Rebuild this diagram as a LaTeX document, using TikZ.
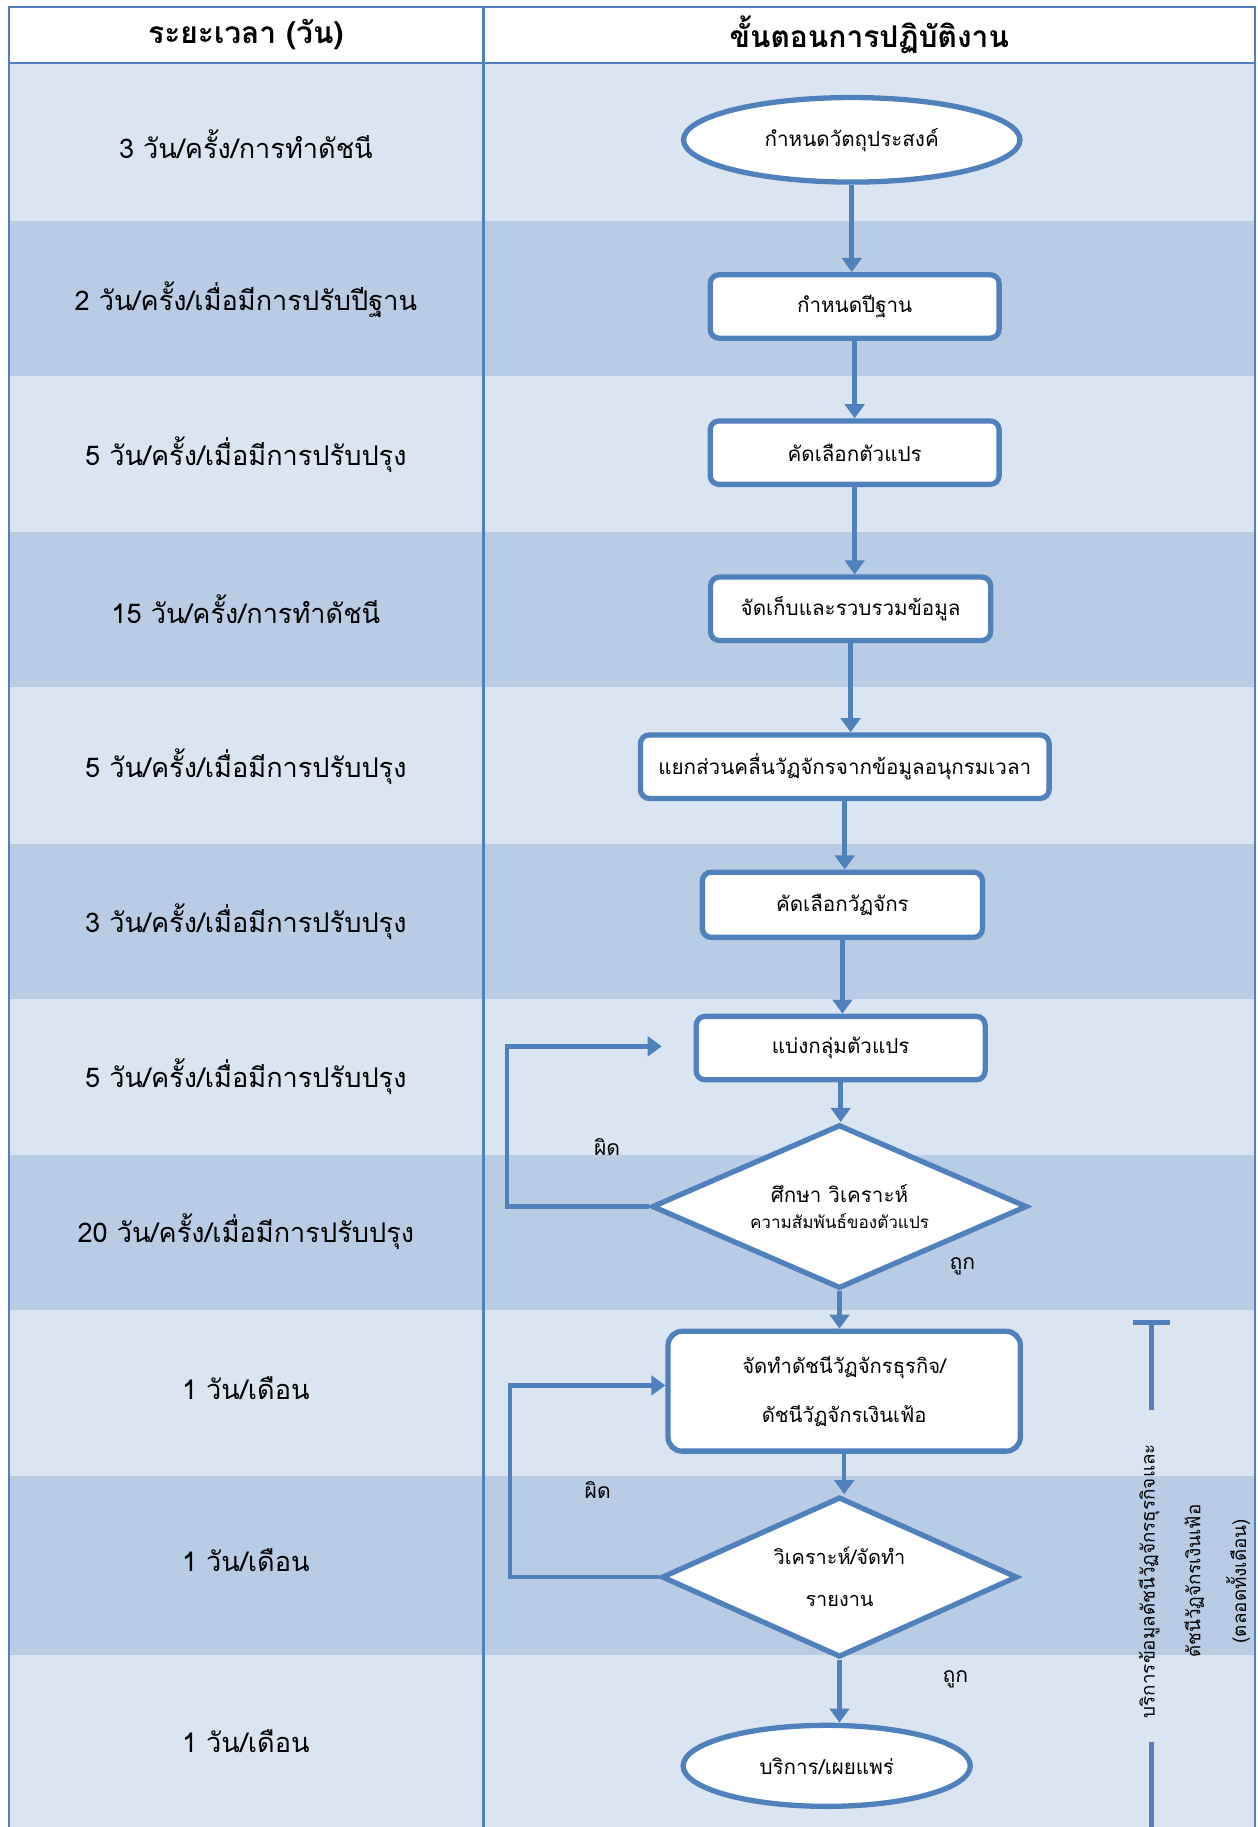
\documentclass[tikz,border=0pt]{standalone}
\usepackage{fontspec}
\newfontfamily\thaifont[Script=Thai]{Loma}
\usetikzlibrary{shapes.geometric,arrows.meta}
\definecolor{flowblue}{RGB}{79,129,189}
\definecolor{bandlight}{RGB}{219,229,241}
\definecolor{banddark}{RGB}{184,204,228}
\tikzset{
  every picture/.style={font=\thaifont, >={Triangle[width=11pt,length=8pt]}},
  gridline/.style={draw=flowblue, line width=1.3pt}}

\begin{document}
\begin{tikzpicture}[x=0.6614pt, y=-0.6614pt,
    headtext/.style={font=\thaifont\bfseries\fontsize{17}{20}\selectfont},
    timetext/.style={font=\thaifont\fontsize{15.4}{18}\selectfont},
    stepbox/.style={
      draw=flowblue,
      line width=3pt,
      fill=white,
      rounded corners=5pt,
      minimum width=164pt,
      minimum height=36pt,
      inner sep=2pt,
      align=center,
      font=\thaifont\fontsize{11.7}{14}\selectfont},
    terminal/.style={
      ellipse,
      draw=flowblue,
      line width=3pt,
      fill=white,
      inner sep=0pt,
      font=\thaifont\fontsize{11.7}{14}\selectfont},
    decision/.style={
      diamond,
      aspect=2.3,
      draw=flowblue,
      line width=3pt,
      fill=white,
      inner sep=0pt,
      align=center,
      font=\thaifont\fontsize{11.7}{14}\selectfont},
    flow/.style={->, draw=flowblue, line width=2.6pt},
    marktext/.style={font=\thaifont\fontsize{12}{14}\selectfont},
    bracket/.style={draw=flowblue, line width=2.6pt}]

    \useasboundingbox[fill=white] (0,0) rectangle (1079,1568);

    % row bands
    \foreach \top/\bot/\tone in {54/190/bandlight, 190/323/banddark,
        323/457/bandlight, 457/590/banddark, 590/724/bandlight,
        724/857/banddark, 857/991/bandlight, 991/1124/banddark,
        1124/1267/bandlight, 1267/1420/banddark, 1420/1568/bandlight}
      \fill[fill=\tone] (8,\top) rectangle (1077,\bot);

    \draw[gridline] (8,1568) -- (8,6) -- (1077,6) -- (1077,1568);
    \draw[gridline] (8,54) -- (1077,54);
    \draw[gridline] (415,6) -- (415,1568);

    \node[headtext] (headtime) at (211,30) {ระยะเวลา (วัน)};
    \node[headtext] (headstep) at (746,30) {ขั้นตอนการปฏิบัติงาน};

    % durations
    \node[timetext] (time1) at (211,124) {3 วัน/ครั้ง/การทำดัชนี};
    \node[timetext] (time2) at (211,257) {2 วัน/ครั้ง/เมื่อมีการปรับปีฐาน};
    \node[timetext] (time3) at (211,390) {5 วัน/ครั้ง/เมื่อมีการปรับปรุง};
    \node[timetext] (time4) at (211,523) {15 วัน/ครั้ง/การทำดัชนี};
    \node[timetext] (time5) at (211,658) {5 วัน/ครั้ง/เมื่อมีการปรับปรุง};
    \node[timetext] (time6) at (211,791) {3 วัน/ครั้ง/เมื่อมีการปรับปรุง};
    \node[timetext] (time7) at (211,924) {5 วัน/ครั้ง/เมื่อมีการปรับปรุง};
    \node[timetext] (time8) at (211,1057) {20 วัน/ครั้ง/เมื่อมีการปรับปรุง};
    \node[timetext] (time9) at (211,1191) {1 วัน/เดือน};
    \node[timetext] (time10) at (211,1339) {1 วัน/เดือน};
    \node[timetext] (time11) at (211,1494) {1 วัน/เดือน};

    % steps
    \node[terminal, minimum width=191pt, minimum height=48pt] (objective) at (731,120) {กำหนดวัตถุประสงค์};
    \node[stepbox] (baseyear) at (733.5,263) {กำหนดปีฐาน};
    \node[stepbox] (variables) at (733.5,388.5) {คัดเลือกตัวแปร};
    \node[stepbox, minimum width=159pt] (collect) at (730,522.5) {จัดเก็บและรวบรวมข้อมูล};
    \node[stepbox, minimum width=232pt] (decompose) at (725,658) {แยกส่วนคลื่นวัฏจักรจากข้อมูลอนุกรมเวลา};
    \node[stepbox, minimum width=159pt, minimum height=37pt] (cycles) at (723,776.5) {คัดเลือกวัฏจักร};
    \node[stepbox] (grouping) at (721.5,899.5) {แบ่งกลุ่มตัวแปร};
    \node[decision, minimum width=213pt, minimum height=93pt] (study) at (720.5,1035.5)
      {ศึกษา วิเคราะห์\\[1pt]{\fontsize{9.7}{11}\selectfont ความสัมพันธ์ของตัวแปร}};
    \node[stepbox, minimum width=200pt, minimum height=68pt, rounded corners=8pt,
      font=\thaifont\fontsize{11.5}{28}\selectfont] (indexbuild) at (724.5,1194)
      {จัดทำดัชนีวัฏจักรธุรกิจ/\\ดัชนีวัฏจักรเงินเฟ้อ};
    \node[decision, minimum width=202pt, minimum height=91pt,
      font=\thaifont\fontsize{11.3}{24}\selectfont] (report) at (720.5,1353.5)
      {วิเคราะห์/จัดทำ\\รายงาน};
    \node[terminal, minimum width=163pt, minimum height=46pt] (publish) at (709.5,1515.5) {บริการ/เผยแพร่};

    \coordinate (regroup) at (568,898);

    \draw[flow] (objective.south) -- (objective.south |- baseyear.north);
    \draw[flow] (baseyear.south) -- (baseyear.south |- variables.north);
    \draw[flow] (variables.south) -- (variables.south |- collect.north);
    \draw[flow] (collect.south) -- (collect.south |- decompose.north);
    \draw[flow] (decompose.south) -- (decompose.south |- cycles.north);
    \draw[flow] (cycles.south) -- (cycles.south |- grouping.north);
    \draw[flow] (grouping.south) -- (grouping.south |- study.north);
    \draw[flow] (study.south) -- (study.south |- indexbuild.north);
    \draw[flow] (indexbuild.south) -- (indexbuild.south |- report.north);
    \draw[flow] (report.south) -- (report.south |- publish.north);

    % feedback loops
    \draw[flow] (study.west) -- ++(-122,0) |- (regroup);
    \draw[flow] (report.west) -- ++(-128,0) |- ([yshift=3.3pt]indexbuild.west);

    \node[marktext] (wrong1) at (521,984) {ผิด};
    \node[marktext] (right1) at (826,1087) {ถูก};
    \node[marktext] (wrong2) at (513,1279) {ผิด};
    \node[marktext] (right2) at (820,1441) {ถูก};

    % service period
    \node[rotate=90, align=center, font=\thaifont\fontsize{10.7}{26}\selectfont] (service) at (1025,1357)
      {บริการข้อมูลดัชนีวัฏจักรธุรกิจและ\\ดัชนีวัฏจักรเงินเฟ้อ\\(ตลอดทั้งเดือน)};
    \coordinate (bartop) at (988,1135);
    \draw[bracket] (972,1135) -- (1004,1135);
    \draw[bracket] (bartop) -- (988,1210);
    \draw[bracket] (988,1495) -- (988,1568);
\end{tikzpicture}
\end{document}
